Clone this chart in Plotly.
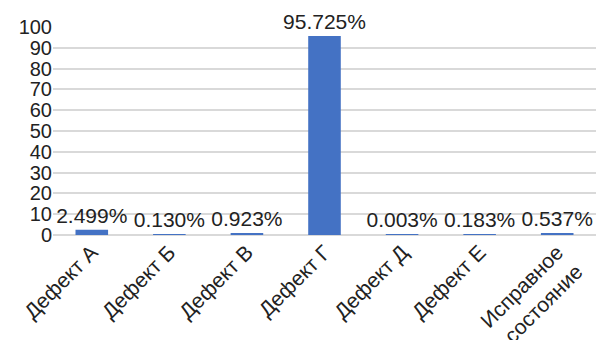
import plotly.graph_objects as go

categories = ["Дефект А", "Дефект Б", "Дефект В", "Дефект Г", "Дефект Д", "Дефект Е", "Исправное<br>состояние"]
shares = [2.499, 0.130, 0.923, 95.725, 0.003, 0.183, 0.537]
y_ticks = list(range(0, 101, 10))

font_family = "Liberation Sans, Arial, sans-serif"
ink = "#222222"

fig = go.Figure(
    go.Bar(
        x=categories,
        y=shares,
        marker=dict(color="#4472C4", line=dict(width=0)),
        text=[f"{v:.3f}%" for v in shares],
        textposition="outside",
        constraintext="none",
        textfont=dict(family=font_family, size=21, color=ink),
        cliponaxis=False,
    )
)

fig.update_layout(
    width=603,
    height=340,
    margin=dict(l=53, r=7, t=27, b=105),
    paper_bgcolor="white",
    plot_bgcolor="white",
    bargap=0.58,
    showlegend=False,
    font=dict(family=font_family, size=20, color=ink),
    xaxis=dict(
        tickangle=-45,
        tickfont=dict(size=21, color=ink),
        showgrid=False,
        showline=False,
        ticks="",
        automargin=False,
    ),
    yaxis=dict(
        range=[0, 100],
        tickvals=y_ticks,
        tickfont=dict(size=20, color=ink),
        showgrid=True,
        gridcolor="#d9d9d9",
        gridwidth=1.5,
        zeroline=True,
        zerolinecolor="#d9d9d9",
        zerolinewidth=1.5,
        showline=False,
        ticks="",
        automargin=False,
    ),
)

fig.write_html("out.html")
